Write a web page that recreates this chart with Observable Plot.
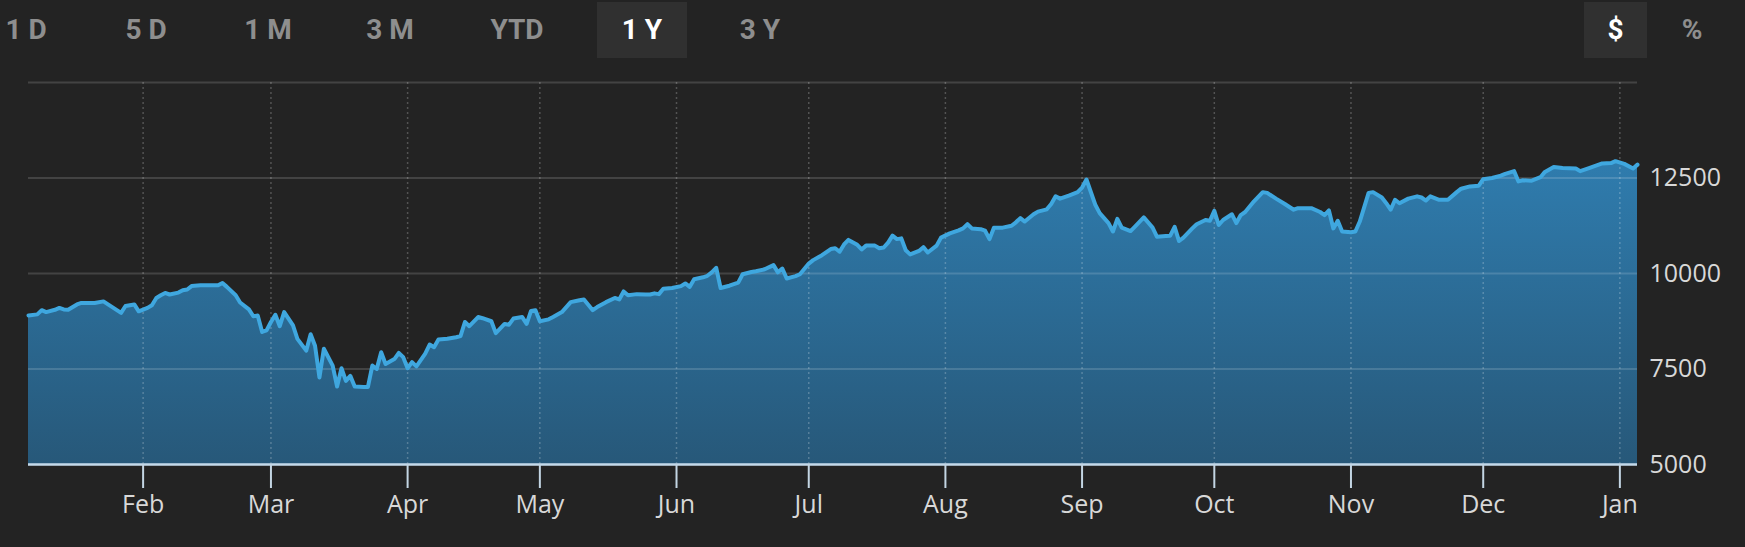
<!DOCTYPE html>
<html>
<head>
<meta charset="utf-8">
<script src="https://cdn.jsdelivr.net/npm/d3@7"></script>
<script src="https://cdn.jsdelivr.net/npm/@observablehq/plot@0.6"></script>
<style>
  html, body { margin: 0; padding: 0; background: #232323; }
  #wrap { width: 1745px; height: 547px; position: relative; overflow: hidden; background: #232323; }
  #header { position: relative; width: 1745px; height: 64px; }
  .btn { position: absolute; top: 2px; height: 56px; line-height: 56px; width: 90px; text-align: center;
         font-family: Roboto, sans-serif; font-weight: 700; font-size: 28px; color: #8e8e8e; white-space: pre; }
  .btn.active { background: #303030; color: #ffffff; }
  #chart svg { display: block; }
</style>
</head>
<body>
<div id="wrap">
  <div id="header">
    <span class="btn" style="left:-19px">1 D</span>
    <span class="btn" style="left:101px">5 D</span>
    <span class="btn" style="left:223px">1 M</span>
    <span class="btn" style="left:345px">3 M</span>
    <span class="btn" style="left:472px">YTD</span>
    <span class="btn active" style="left:597px">1 Y</span>
    <span class="btn" style="left:715px">3 Y</span>
    <span class="btn active" style="left:1584px;width:63px">$</span>
    <span class="btn" style="left:1647px">%</span>
  </div>
  <div id="chart"></div>
</div>
<script>
const dates = [
"2020-01-06","2020-01-08","2020-01-09","2020-01-10","2020-01-12","2020-01-13","2020-01-14","2020-01-15","2020-01-17","2020-01-18",
"2020-01-19","2020-01-21","2020-01-23","2020-01-25","2020-01-27","2020-01-28","2020-01-30","2020-01-31","2020-02-02","2020-02-03",
"2020-02-04","2020-02-05","2020-02-06","2020-02-07","2020-02-09","2020-02-10","2020-02-11","2020-02-12","2020-02-14","2020-02-16",
"2020-02-17","2020-02-18","2020-02-19","2020-02-20","2020-02-22","2020-02-23","2020-02-25","2020-02-26","2020-02-27","2020-02-28",
"2020-02-29","2020-03-01","2020-03-02","2020-03-03","2020-03-04","2020-03-06","2020-03-07","2020-03-09","2020-03-10","2020-03-11",
"2020-03-12","2020-03-13","2020-03-15","2020-03-16","2020-03-17","2020-03-18","2020-03-19","2020-03-20","2020-03-22","2020-03-23",
"2020-03-24","2020-03-25","2020-03-26","2020-03-27","2020-03-29","2020-03-30","2020-03-31","2020-04-01","2020-04-02","2020-04-03",
"2020-04-05","2020-04-06","2020-04-07","2020-04-08","2020-04-10","2020-04-12","2020-04-13","2020-04-14","2020-04-15","2020-04-17",
"2020-04-18","2020-04-20","2020-04-21","2020-04-23","2020-04-24","2020-04-25","2020-04-26","2020-04-27","2020-04-28","2020-04-29",
"2020-04-30","2020-05-01","2020-05-03","2020-05-04","2020-05-06","2020-05-08","2020-05-10","2020-05-11","2020-05-13","2020-05-14",
"2020-05-16","2020-05-18","2020-05-19","2020-05-20","2020-05-21","2020-05-23","2020-05-25","2020-05-26","2020-05-27","2020-05-28",
"2020-05-29","2020-05-31","2020-06-02","2020-06-03","2020-06-04","2020-06-05","2020-06-07","2020-06-08","2020-06-09","2020-06-10",
"2020-06-11","2020-06-13","2020-06-15","2020-06-16","2020-06-18","2020-06-19","2020-06-21","2020-06-23","2020-06-24","2020-06-25",
"2020-06-26","2020-06-28","2020-06-29","2020-07-01","2020-07-02","2020-07-04","2020-07-06","2020-07-07","2020-07-08","2020-07-09",
"2020-07-10","2020-07-12","2020-07-13","2020-07-14","2020-07-16","2020-07-17","2020-07-18","2020-07-19","2020-07-20","2020-07-21",
"2020-07-22","2020-07-23","2020-07-24","2020-07-26","2020-07-27","2020-07-28","2020-07-30","2020-07-31","2020-08-02","2020-08-04",
"2020-08-05","2020-08-06","2020-08-07","2020-08-09","2020-08-10","2020-08-11","2020-08-12","2020-08-14","2020-08-16","2020-08-17",
"2020-08-18","2020-08-19","2020-08-21","2020-08-22","2020-08-24","2020-08-25","2020-08-26","2020-08-27","2020-08-29","2020-08-31",
"2020-09-01","2020-09-02","2020-09-04","2020-09-05","2020-09-07","2020-09-08","2020-09-09","2020-09-10","2020-09-12","2020-09-13",
"2020-09-15","2020-09-17","2020-09-18","2020-09-20","2020-09-21","2020-09-22","2020-09-23","2020-09-24","2020-09-26","2020-09-27",
"2020-09-29","2020-09-30","2020-10-01","2020-10-02","2020-10-03","2020-10-05","2020-10-06","2020-10-07","2020-10-08","2020-10-10",
"2020-10-12","2020-10-13","2020-10-15","2020-10-17","2020-10-19","2020-10-20","2020-10-23","2020-10-25","2020-10-26","2020-10-27",
"2020-10-28","2020-10-29","2020-10-30","2020-11-01","2020-11-02","2020-11-03","2020-11-05","2020-11-06","2020-11-08","2020-11-09",
"2020-11-10","2020-11-11","2020-11-12","2020-11-14","2020-11-16","2020-11-17","2020-11-18","2020-11-19","2020-11-21","2020-11-23",
"2020-11-25","2020-11-26","2020-11-28","2020-11-30","2020-12-01","2020-12-03","2020-12-05","2020-12-06","2020-12-08","2020-12-09",
"2020-12-10","2020-12-12","2020-12-14","2020-12-15","2020-12-17","2020-12-19","2020-12-22","2020-12-23","2020-12-25","2020-12-28",
"2020-12-30","2020-12-31","2021-01-02","2021-01-04","2021-01-05"
];
const values = [
8900,8930,9040,8990,9050,9100,9060,9050,9190,9230,
9230,9230,9270,9120,8970,9150,9190,9010,9100,9170,
9360,9430,9490,9450,9500,9560,9580,9670,9690,9690,
9690,9690,9750,9650,9430,9240,9060,8880,8900,8470,
8510,8730,8920,8620,8990,8640,8290,7980,8410,8110,
7280,8030,7590,7040,7520,7190,7320,7040,7030,7030,
7590,7500,7940,7630,7760,7920,7810,7520,7680,7570,
7900,8140,8070,8270,8290,8330,8360,8730,8620,8860,
8830,8750,8440,8680,8660,8820,8840,8860,8680,9020,
9040,8750,8800,8860,8990,9250,9300,9320,9040,9120,
9250,9360,9320,9530,9430,9460,9450,9450,9480,9460,
9600,9620,9670,9740,9650,9850,9900,9940,10030,10150,
9620,9680,9760,9980,10040,10060,10110,10220,10030,10130,
9870,9930,9980,10260,10350,10480,10640,10660,10570,10760,
10880,10750,10630,10730,10730,10660,10680,10810,10990,10900,
10920,10610,10500,10590,10690,10550,10730,10940,11050,11130,
11180,11290,11180,11160,11120,10900,11200,11200,11250,11340,
11450,11360,11550,11620,11680,11820,12020,11960,12040,12130,
12250,12460,11800,11580,11320,11100,11430,11200,11110,11230,
11470,11200,10960,10980,10990,11220,10850,10940,11180,11290,
11400,11380,11640,11270,11400,11550,11320,11530,11610,11890,
12130,12110,11960,11820,11670,11710,11710,11610,11530,11650,
11180,11380,11100,11080,11100,11360,12110,12130,11990,11840,
11670,11930,11840,11960,12020,11990,11910,12020,11930,11930,
12130,12220,12280,12300,12470,12500,12560,12610,12680,12410,
12440,12430,12520,12660,12790,12760,12750,12680,12760,12880,
12890,12940,12870,12750,12850
];
const monthTicks = ["2020-02-01","2020-03-01","2020-04-01","2020-05-01","2020-06-01","2020-07-01",
                    "2020-08-01","2020-09-01","2020-10-01","2020-11-01","2020-12-01","2021-01-01"];
const gridValues = [5000, 7500, 10000, 12500, 15000];
const yLabels = [5000, 7500, 10000, 12500];

const data = dates.map((d, i) => ({date: new Date(d), value: values[i]}));
const months = monthTicks.map(d => new Date(d));

const gradientDefs = () => {
  const defs = d3.create("svg:defs");
  const g = defs.append("linearGradient").attr("id", "areaGrad")
    .attr("x1", 0).attr("x2", 0).attr("y1", 0).attr("y2", 1);
  g.append("stop").attr("offset", "0%").attr("stop-color", "#2f7cae");
  g.append("stop").attr("offset", "100%").attr("stop-color", "#275879");
  return defs.node();
};

const chart = Plot.plot({
  width: 1745,
  height: 483,
  marginTop: 18,
  marginBottom: 83,
  marginLeft: 28,
  marginRight: 108,
  style: {background: "transparent", fontFamily: "'Open Sans', sans-serif", overflow: "visible"},
  x: {type: "utc", domain: d3.extent(data, d => d.date), label: null},
  y: {domain: [5000, 15000], label: null},
  marks: [
    gradientDefs,
    Plot.areaY(data, {x: "date", y1: 5000, y2: "value", fill: "url(#areaGrad)"}),
    Plot.ruleY(gridValues, {stroke: "#ffffff", strokeOpacity: 0.15, strokeWidth: 2}),
    Plot.ruleX(months, {stroke: "#ffffff", strokeOpacity: 0.22, strokeWidth: 1.5, strokeDasharray: "2,3"}),
    Plot.lineY(data, {x: "date", y: "value", stroke: "#3fa7df", strokeWidth: 4, strokeLinejoin: "round"}),
    Plot.ruleY([5000], {stroke: "#c3d9ea", strokeWidth: 2.5}),
    Plot.axisX(months, {tickFormat: "%b", tickSize: 24, tickPadding: 7, stroke: "#c3d5e3", strokeWidth: 2,
                        fill: "#d8d8d8", fontSize: 25, label: null}),
    Plot.axisY(yLabels, {anchor: "right", tickSize: 0, tickPadding: 12, tickFormat: d3.format("d"),
                         fill: "#d8d8d8", fontSize: 25, label: null})
  ]
});
document.getElementById("chart").appendChild(chart);
</script>
</body>
</html>
